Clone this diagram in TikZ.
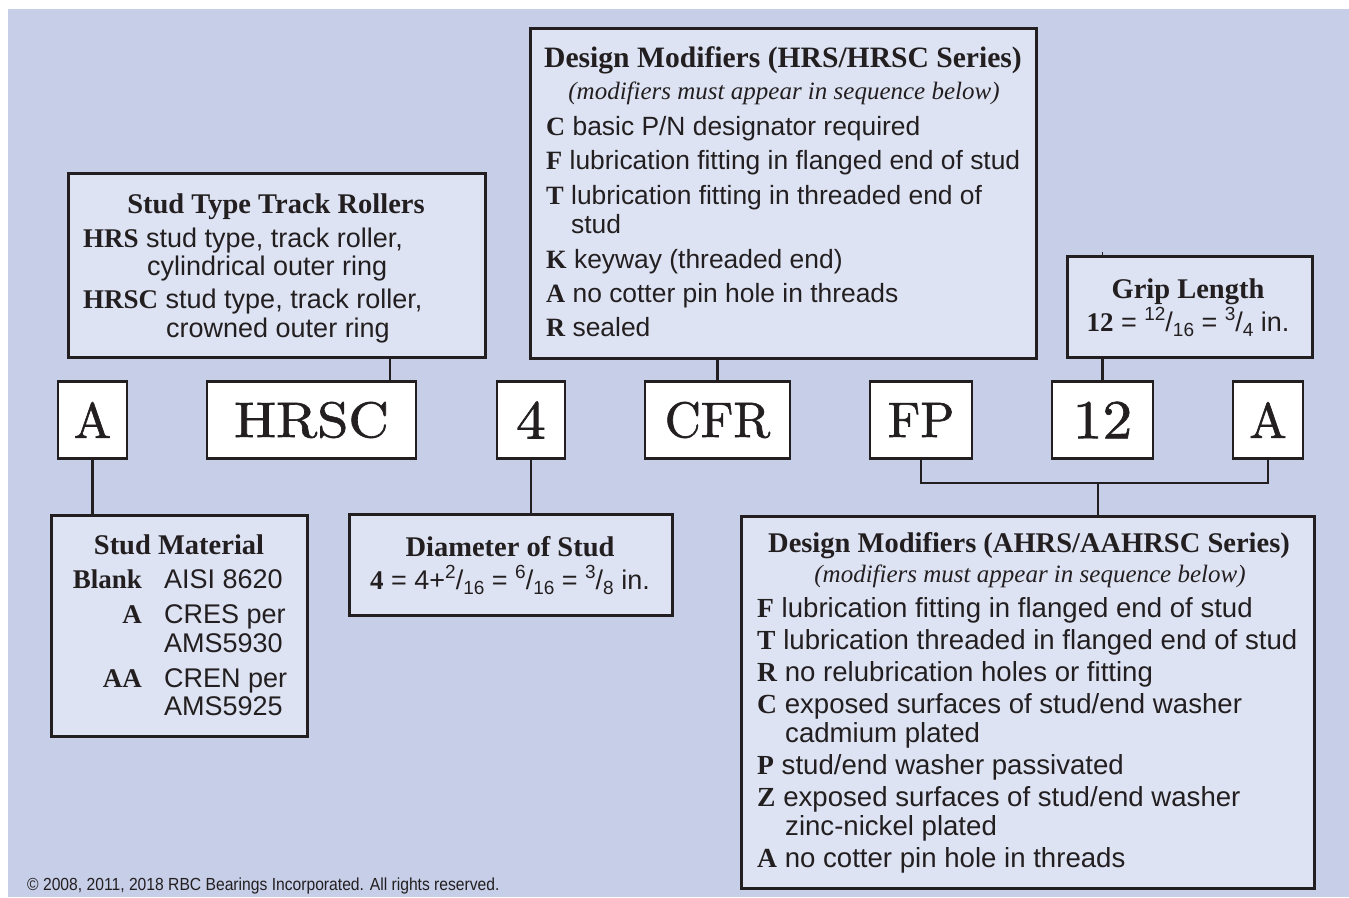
\documentclass[tikz,border=0pt]{standalone}
\usepackage{fontspec}
\usepackage{graphicx}
\newfontfamily\hdfont{Liberation Serif}
\newfontfamily\bodyfont{Liberation Sans}
\newfontfamily\codefam[FakeBold=1.2]{lmroman10-regular.otf}
\definecolor{bgc}{HTML}{C6CEE8}
\definecolor{boxc}{HTML}{DDE3F3}
\definecolor{linec}{HTML}{231F20}
\newcommand\lt[1]{{\hdfont\bfseries #1}}
\newcommand\fup[1]{\raisebox{0.40em}{\fontsize{19}{19}\selectfont #1}}
\newcommand\fdn[1]{\raisebox{-0.22em}{\fontsize{19}{19}\selectfont #1}}
\newcommand\codefnt{\codefam\fontsize{50}{56}\selectfont}
\newcommand\digfnt{\codefam\fontsize{55}{60}\selectfont}
\begin{document}
\begin{tikzpicture}[x=1pt,y=-1pt,
  bigbox/.style={draw=linec, line width=3pt, fill=boxc, inner sep=0pt, outer sep=0pt, anchor=north west},
  codebox/.style={draw=linec, line width=2.5pt, fill=white, inner sep=0pt, outer sep=0pt, minimum height=77pt, text=linec, font=\codefnt},
  conn/.style={draw=linec, line width=2.5pt},
  ttl/.style={font=\hdfont\bfseries\fontsize{28.5}{30}\selectfont, anchor=base, inner sep=0pt, text=linec},
  subt/.style={font=\hdfont\itshape\fontsize{25}{28}\selectfont, anchor=base, inner sep=0pt, text=linec},
  txt/.style={font=\bodyfont\fontsize{27}{30}\selectfont, anchor=base west, inner sep=0pt, text=linec},
  txta/.style={txt, font=\bodyfont\fontsize{26.4}{30}\selectfont},
  txtb/.style={txt, font=\bodyfont\fontsize{27.6}{30}\selectfont},
  txtr/.style={txt, anchor=base east},
  txtc/.style={txt, anchor=base},
]
\useasboundingbox (0,0) rectangle (1349,897);
\fill[bgc] (8,9) rectangle (1349,897);

% code boxes
\node[codebox, minimum width=69pt]  (a1)   at (92.5,420)  {A};
\node[codebox, minimum width=209pt] (hrsc) at (311.5,420) {\scalebox{1.12}[1]{HRSC}};
\node[codebox, minimum width=68pt, font=\digfnt]  (d4)   at (531,420)   {\scalebox{1.08}[1]{4}};
\node[codebox, minimum width=145pt] (cfr)  at (717.5,420) {CFR};
\node[codebox, minimum width=102pt] (fp)   at (921,420)   {FP};
\node[codebox, minimum width=101pt, font=\digfnt] (g12)  at (1102.5,420) {\scalebox{1.08}[1]{12}};
\node[codebox, minimum width=70pt]  (a2)   at (1268,420)  {A};

% description boxes
\node[bigbox, minimum width=417pt, minimum height=184pt] (tl)   at (68,173) {};
\node[bigbox, minimum width=506pt, minimum height=330pt] (dm1)  at (530,28) {};
\node[bigbox, minimum width=245pt, minimum height=101pt] (grip) at (1067,256) {};
\node[bigbox, minimum width=256pt, minimum height=221pt] (mat)  at (51,515) {};
\node[bigbox, minimum width=323pt, minimum height=101pt] (dia)  at (349,514) {};
\node[bigbox, minimum width=573pt, minimum height=372pt] (dm2)  at (741,516) {};

% connectors
\coordinate (k1) at (390,0);
\draw[conn] (tl.south -| k1) -- (hrsc.north -| k1);
\draw[conn] (a1.south) -- (a1.south |- mat.north);
\draw[conn] (d4.south) -- (d4.south |- dia.north);
\draw[conn] (cfr.north) -- (cfr.north |- dm1.south);
\draw[conn] (g12.north) -- (g12.north |- grip.south);
\draw[conn, line width=1.5pt] (grip.north -| g12.north) -- ++(0,-4);
\coordinate (jb) at (1098,483);
\draw[conn] (fp.south) |- (jb) -| (a2.south);
\draw[conn] (jb) -- (jb |- dm2.north);

% Stud Type Track Rollers
\node[ttl] (tlt) at (276,213) {Stud Type Track Rollers};
\node[txt] (tl1) at (83,247) {\lt{HRS} stud type, track roller,};
\node[txt] (tl2) at (147,275) {cylindrical outer ring};
\node[txt] (tl3) at (83,308) {\lt{HRSC} stud type, track roller,};
\node[txt] (tl4) at (166,337) {crowned outer ring};

% Design Modifiers HRS/HRSC
\node[ttl, font=\hdfont\bfseries\fontsize{29.6}{30}\selectfont] (d1t) at (783,67) {Design Modifiers (HRS/HRSC Series)};
\node[subt] (d1s) at (784,99) {(modifiers must appear in sequence below)};
\node[txta] (d11) at (546,135) {\lt{C} basic P/N designator required};
\node[txta] (d12) at (546,169) {\lt{F} lubrication fitting in flanged end of stud};
\node[txta] (d13) at (546,204) {\lt{T} lubrication fitting in threaded end of};
\node[txta] (d14) at (571,233) {stud};
\node[txta] (d15) at (546,268) {\lt{K} keyway (threaded end)};
\node[txta] (d16) at (546,302) {\lt{A} no cotter pin hole in threads};
\node[txta] (d17) at (546,336) {\lt{R} sealed};

% Grip Length
\node[ttl] (gt) at (1188,298) {Grip Length};
\node[txtc] (g1) at (1188,331) {\lt{12} = \fup{12}/\fdn{16} = \fup{3}/\fdn{4} in.};

% Stud Material
\node[ttl] (mt) at (179,554) {Stud Material};
\node[txtr] (m1l) at (142,588) {\lt{Blank}};
\node[txt]  (m1)  at (164,588) {AISI 8620};
\node[txtr] (m2l) at (142,623) {\lt{A}};
\node[txt]  (m2)  at (164,623) {CRES per};
\node[txt]  (m3)  at (164,652) {AMS5930};
\node[txtr] (m4l) at (142,687) {\lt{AA}};
\node[txt]  (m4)  at (164,687) {CREN per};
\node[txt]  (m5)  at (164,715) {AMS5925};

% Diameter of Stud
\node[ttl] (dt) at (510,556) {Diameter of Stud};
\node[txtc] (dl) at (510,589) {\lt{4} = 4+\fup{2}/\fdn{16} = \fup{6}/\fdn{16} = \fup{3}/\fdn{8} in.};

% Design Modifiers AHRS/AAHRSC
\node[ttl] (d2t) at (1029,552) {Design Modifiers (AHRS/AAHRSC Series)};
\node[subt] (d2s) at (1030,582) {(modifiers must appear in sequence below)};
\node[txtb] (e1) at (757,617) {\lt{F} lubrication fitting in flanged end of stud};
\node[txtb] (e2) at (757,649) {\lt{T} lubrication threaded in flanged end of stud};
\node[txtb] (e3) at (757,681) {\lt{R} no relubrication holes or fitting};
\node[txtb] (e4) at (757,713) {\lt{C} exposed surfaces of stud/end washer};
\node[txtb] (e5) at (785,742) {cadmium plated};
\node[txtb] (e6) at (757,774) {\lt{P} stud/end washer passivated};
\node[txtb] (e7) at (757,806) {\lt{Z} exposed surfaces of stud/end washer};
\node[txtb] (e8) at (785,835) {zinc-nickel plated};
\node[txtb] (e9) at (757,867) {\lt{A} no cotter pin hole in threads};

% copyright
\node[txt, font=\bodyfont\fontsize{17.5}{20}\selectfont] (cpy) at (27,890) {\scalebox{0.895}[1]{© 2008, 2011, 2018 RBC Bearings Incorporated. All rights reserved.}};
\end{tikzpicture}
\end{document}
